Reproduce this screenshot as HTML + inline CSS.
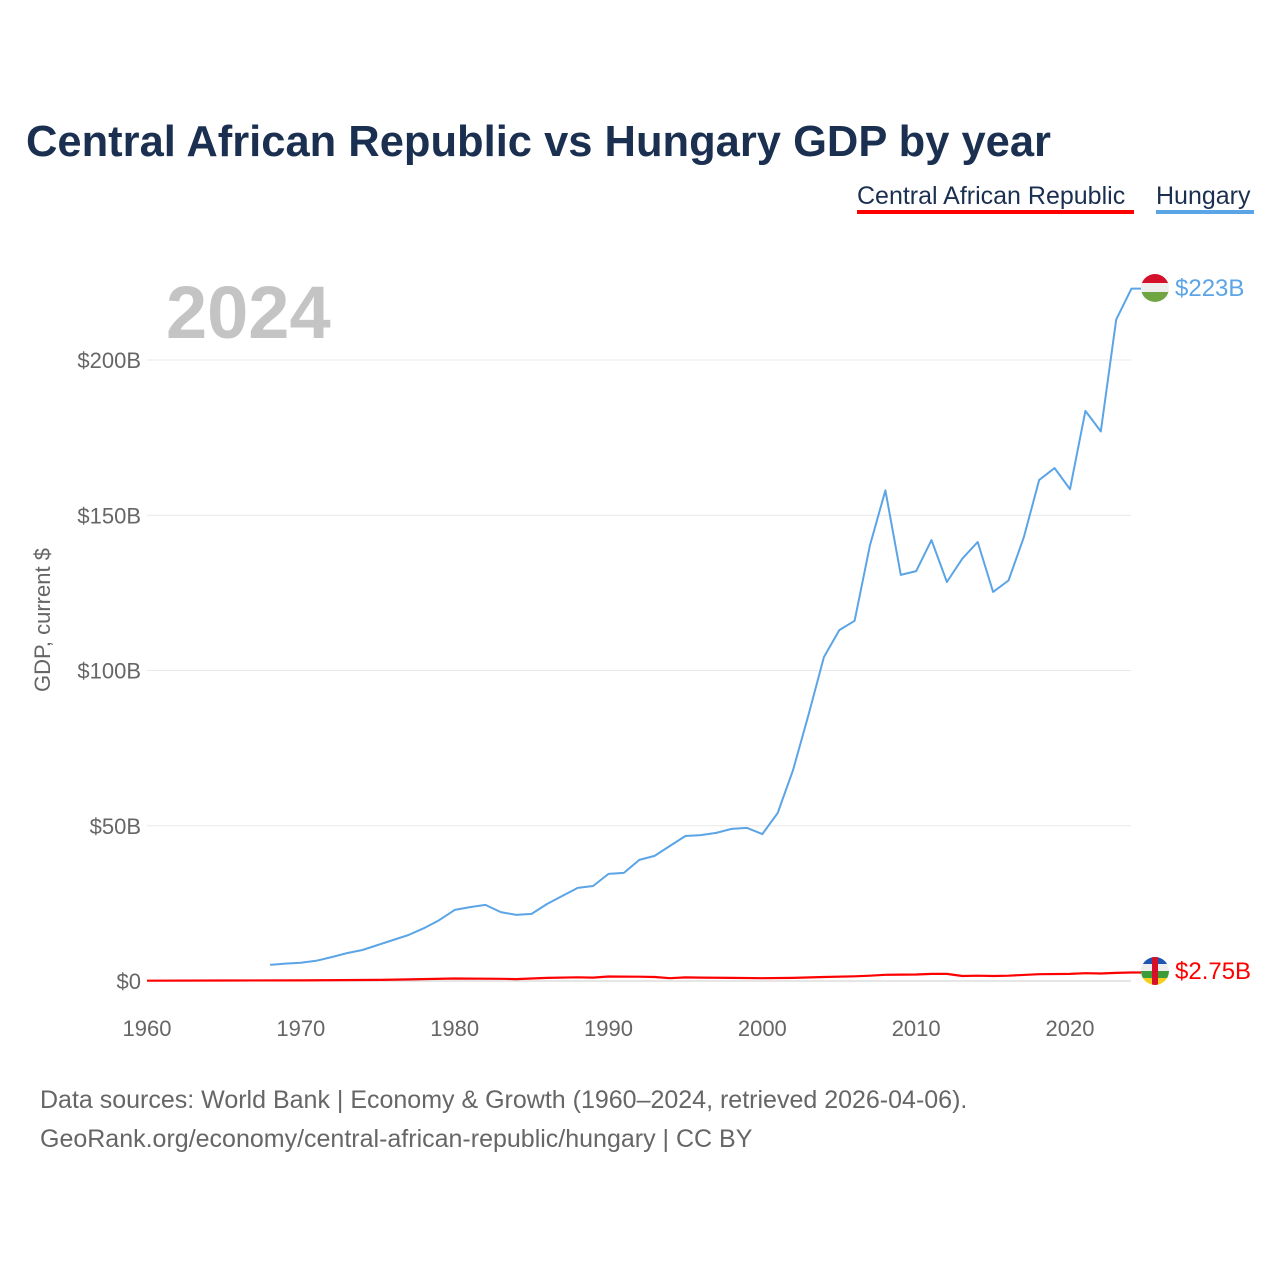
<!DOCTYPE html>
<html><head><meta charset="utf-8"><style>
body{margin:0;background:#fff;font-family:"Liberation Sans",sans-serif;}
#wrap{position:relative;width:1280px;height:1280px;overflow:hidden;}
</style></head><body><div id="wrap">
<svg id="chart" width="1280" height="1280" xmlns="http://www.w3.org/2000/svg">
<defs>
<clipPath id="huc"><circle cx="1155" cy="288" r="14"/></clipPath>
<clipPath id="cfc"><circle cx="1155" cy="971" r="14"/></clipPath>
</defs>
<text x="26" y="156" font-size="43.5" font-weight="bold" fill="#1b3050">Central African Republic vs Hungary GDP by year</text>
<g><text x="857" y="204" font-size="25" fill="#1b3050">Central African Republic</text><rect x="857" y="210" width="277" height="4" fill="#ff0000"/></g>
<g><text x="1156" y="204" font-size="25" fill="#1b3050">Hungary</text><rect x="1156" y="210" width="98" height="4" fill="#5ba4e6"/></g>
<text x="166" y="338" font-size="74" font-weight="bold" fill="#c4c4c4">2024</text>
<text transform="translate(50,620) rotate(-90)" text-anchor="middle" font-size="22" fill="#666">GDP, current $</text>
<g id="grid"></g><g id="xt"></g><g id="lines"></g>
<g clip-path="url(#huc)"><rect x="1141" y="274" width="28" height="10" fill="#d5102a"/><rect x="1141" y="283" width="28" height="10" fill="#eee"/><rect x="1141" y="292" width="28" height="10" fill="#6fa543"/></g>
<g clip-path="url(#cfc)"><rect x="1141" y="957" width="28" height="7" fill="#1f54b0"/><rect x="1141" y="964" width="28" height="7" fill="#eee"/><rect x="1141" y="971" width="28" height="7" fill="#3e9b3a"/><rect x="1141" y="978" width="28" height="7" fill="#f5d020"/><rect x="1152" y="957" width="6" height="28" fill="#d51028"/></g>
<text x="1175" y="296" font-size="24" fill="#5ba4e6">$223B</text>
<text x="1175" y="979" font-size="24" fill="#ff0000">$2.75B</text>
<text x="40" y="1108" font-size="25" fill="#666">Data sources: World Bank | Economy &amp; Growth (1960–2024, retrieved 2026-04-06).</text>
<text x="40" y="1147" font-size="25" fill="#666">GeoRank.org/economy/central-african-republic/hungary | CC BY</text>
</svg>
<script>
const yTicks=[0,50,100,150,200];
const yTickLabels=["$0","$50B","$100B","$150B","$200B"];
const xTicks=[1960,1970,1980,1990,2000,2010,2020];
const huYears=[1968,1969,1970,1971,1972,1973,1974,1975,1976,1977,1978,1979,1980,1981,1982,1983,1984,1985,1986,1987,1988,1989,1990,1991,1992,1993,1994,1995,1996,1997,1998,1999,2000,2001,2002,2003,2004,2005,2006,2007,2008,2009,2010,2011,2012,2013,2014,2015,2016,2017,2018,2019,2020,2021,2022,2023,2024];
const huGDP=[5.2,5.6,5.9,6.5,7.7,9,10,11.6,13.2,14.8,17,19.6,22.9,23.8,24.5,22.2,21.3,21.6,24.8,27.4,30,30.6,34.5,34.8,39,40.3,43.5,46.7,47,47.7,49,49.3,47.3,54.1,68,85.7,104.3,113,116,140.4,158,130.8,132,142,128.5,136,141.4,125.3,129,143,161.4,165.2,158.4,183.6,177,213,223];
const cfYears=[1960,1965,1970,1975,1977,1980,1983,1984,1986,1988,1989,1990,1992,1993,1994,1995,1996,1998,2000,2002,2004,2006,2007,2008,2010,2011,2012,2013,2014,2015,2016,2018,2020,2021,2022,2023,2024];
const cfGDP=[0.1,0.15,0.2,0.35,0.5,0.8,0.7,0.6,1.0,1.2,1.1,1.45,1.4,1.3,0.9,1.15,1.1,1.0,0.9,1.0,1.3,1.5,1.7,2.0,2.1,2.3,2.3,1.6,1.7,1.6,1.7,2.2,2.3,2.5,2.4,2.6,2.75];
const NS="http://www.w3.org/2000/svg";
const xS=y=>147+(y-1960)*(1070-147)/60;
const yS=v=>981-v*(981-360)/200;
function mk(t,a,p){const e=document.createElementNS(NS,t);for(const k in a)e.setAttribute(k,a[k]);p.appendChild(e);return e;}
const grid=document.getElementById('grid');
yTicks.forEach((v,i)=>{
 const l=mk('line',{x1:147,x2:1131,y1:yS(v),y2:yS(v),stroke:i==0?'#ccc':'#e8e8e8','stroke-width':1},grid);
 
 
 const t=mk('text',{x:141,y:yS(v)+8,'text-anchor':'end','font-size':22,fill:'#666'},grid);
 t.textContent=yTickLabels[i];
 
 
});
const xt=document.getElementById('xt');
xTicks.forEach(y=>{
 const t=mk('text',{x:xS(y),y:1036,'text-anchor':'middle','font-size':22,fill:'#666'},xt);
 t.textContent=y;
 
 
});
const lines=document.getElementById('lines');
function line(xs,vs,c,w,name){
 const d=xs.map((y,i)=>(i?'L':'M')+xS(y).toFixed(1)+','+yS(vs[i]).toFixed(1)).join('')+'H1141';
 const p=mk('path',{d:d,fill:'none',stroke:c,'stroke-width':w,'stroke-linejoin':'round'},lines);
 
 
}
line(huYears,huGDP,'#5ba4e6',2,'hungary-line');
line(cfYears,cfGDP,'#ff0000',2.2,'car-line');
</script>
</div></body></html>
